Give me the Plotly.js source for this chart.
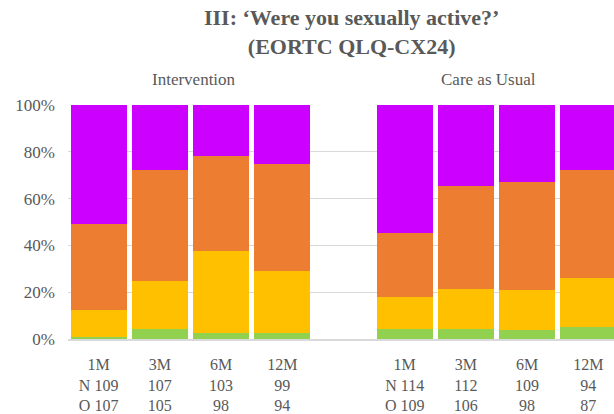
<!DOCTYPE html>
<html>
<head>
<meta charset="utf-8">
<script src="https://cdn.plot.ly/plotly-3.0.1.min.js"></script>
<style>html,body{margin:0;padding:0;background:#fff;overflow:hidden}</style>
</head>
<body>
<div id="chart" style="width:614px;height:414px"></div>
<script>
const timepoints = ['1M', '3M', '6M', '12M'];
const interventionN = [109, 107, 103, 99];
const interventionO = [107, 105, 98, 94];
const careN = [114, 112, 109, 94];
const careO = [109, 106, 98, 87];

const interventionGreen  = [0.9, 4.3, 2.4, 2.7];
const interventionYellow = [11.6, 20.3, 35.0, 26.5];
const interventionOrange = [36.5, 47.5, 40.7, 45.8];
const interventionPurple = [51.0, 27.9, 21.9, 25.0];

const careGreen  = [4.3, 4.3, 3.7, 5.1];
const careYellow = [13.8, 17.0, 17.1, 20.8];
const careOrange = [27.1, 44.3, 46.2, 46.2];
const carePurple = [54.8, 34.4, 33.0, 27.9];

const yTicks = [0, 20, 40, 60, 80, 100];

function labels(nArr, oArr) {
  return timepoints.map((t, i) => t + '<br>' + (i === 0 ? 'N ' : '') + nArr[i] + '<br>' + (i === 0 ? 'O ' : '') + oArr[i]);
}
const spacer = ' ';
const cats = labels(interventionN, interventionO).concat([spacer], labels(careN, careO));
function join(a, b) { return a.concat([null], b); }

const colors = ['#92D050', '#FFC000', '#ED7D31', '#CC00FF'];
const series = [
  join(interventionGreen, careGreen),
  join(interventionYellow, careYellow),
  join(interventionOrange, careOrange),
  join(interventionPurple, carePurple)
];

const traces = series.map((vals, k) => ({
  type: 'bar',
  x: cats,
  y: vals,
  marker: {color: colors[k], line: {width: 0}},
  hoverinfo: 'skip'
}));

const textColor = '#595959';
const serif = 'Liberation Serif, Times New Roman, serif';

const layout = {
  width: 614,
  height: 414,
  barmode: 'stack',
  bargap: 0.085,
  showlegend: false,
  paper_bgcolor: '#ffffff',
  plot_bgcolor: '#ffffff',
  margin: {l: 68, r: 0, t: 105, b: 75, pad: 0},
  font: {family: serif, color: textColor, size: 15},
  xaxis: {
    type: 'category',
    categoryorder: 'array',
    categoryarray: cats,
    range: [-0.5, 8.42],
    showgrid: false,
    showline: true,
    linecolor: '#D9D9D9',
    linewidth: 1.5,
    ticks: '',
    ticklabelstandoff: 10,
    tickfont: {family: serif, size: 16, color: textColor},
    fixedrange: true
  },
  yaxis: {
    range: [0, 100],
    tickvals: yTicks,
    ticktext: yTicks.map(v => v + '%'),
    showgrid: true,
    gridcolor: '#D9D9D9',
    gridwidth: 1,
    zeroline: false,
    showline: false,
    ticks: '',
    ticklabelstandoff: 12,
    tickfont: {family: serif, size: 17, color: textColor},
    fixedrange: true
  },
  annotations: [
    {text: '<b>III: \u2018Were you sexually active?\u2019</b><br><b>(EORTC QLQ-CX24)</b>',
     xref: 'paper', yref: 'paper', x: 0.52, y: 1.435,
     xanchor: 'center', yanchor: 'top', showarrow: false, align: 'center',
     font: {family: serif, size: 22, color: textColor}},
    {text: 'Intervention', xref: 'paper', yref: 'paper', x: 0.231, y: 1.107,
     xanchor: 'center', yanchor: 'middle', showarrow: false,
     font: {family: serif, size: 17, color: textColor}},
    {text: 'Care as Usual', xref: 'paper', yref: 'paper', x: 0.771, y: 1.107,
     xanchor: 'center', yanchor: 'middle', showarrow: false,
     font: {family: serif, size: 17, color: textColor}}
  ]
};

Plotly.newPlot('chart', traces, layout, {displayModeBar: false, staticPlot: true});
</script>
</body>
</html>
